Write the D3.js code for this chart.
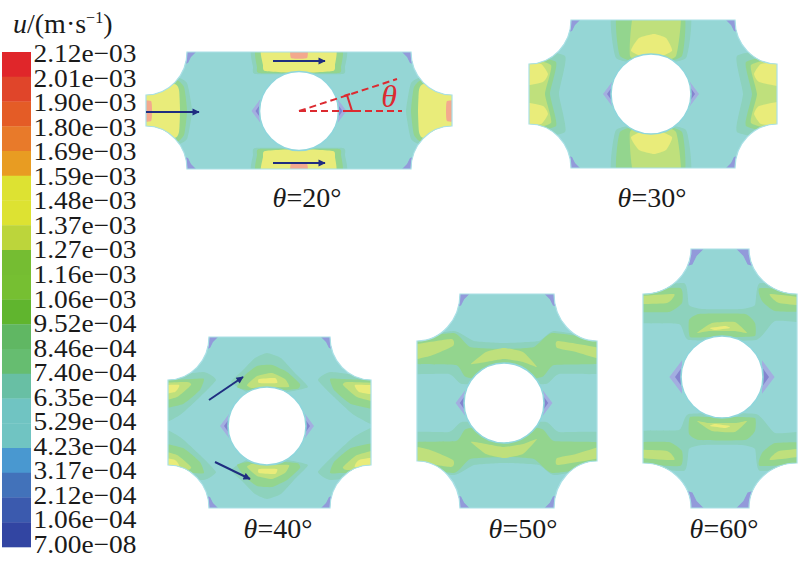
<!DOCTYPE html>
<html><head><meta charset="utf-8">
<script src="https://cdn.jsdelivr.net/npm/d3@7"></script>
<style>html,body{margin:0;padding:0;background:#fff}svg{display:block}text{font-family:"Liberation Serif",serif;fill:#1a1a1a}</style>
</head><body><svg id="c" width="800" height="563"></svg>
<script>
// ---- legend data
const legendLabels = ["2.12e−03","2.01e−03","1.90e−03","1.80e−03","1.69e−03","1.59e−03","1.48e−03","1.37e−03","1.27e−03","1.16e−03","1.06e−03","9.52e−04","8.46e−04","7.40e−04","6.35e−04","5.29e−04","4.23e−04","3.17e−04","2.12e−04","1.06e−04","7.00e−08"];
const legendColors = ["#e0262c","#e0442a","#e45c28","#e87a2a","#e89c24","#dde233","#dde233","#bcd53a","#74bd33","#76bf30","#60b52e","#60b764","#66bd70","#68bfa4","#6fc4c2","#6fc4c2","#4898d0","#4272ba","#3a5aae","#3245a2"];
const captions = ["20","30","40","50","60"];
// ---- contour outlines of the velocity field, in cell units from the hole centre
const OUT="#8dd2bd",GRN="#93d58e",LGT="#bfe07c",YEL="#e9ec7a",PNK="#f3a98e";
const band20 = [
 {f:OUT,my:1,p:[[-45,-66],[45,-66],[46,-44],[44,-37],[0,-37],[-44,-37],[-46,-44]]},
 {f:GRN,my:1,p:[[-41,-66],[41,-66],[42,-44],[40,-38],[0,-38],[-40,-38],[-42,-44]]},
 {f:YEL,my:1,p:[[-36,-66],[35,-66],[36,-46],[34,-40],[0,-38],[-34,-40],[-36,-46]]},
 {f:PNK,my:1,p:[[-8,-66],[8,-66],[8,-53],[-8,-53]]},
 {f:OUT,mx:1,p:[[-165,-22],[-125,-34],[-112,-28],[-107,0],[-112,28],[-125,34],[-165,22]]},
 {f:GRN,mx:1,p:[[-165,-22],[-125,-32],[-115,-24],[-112,0],[-115,24],[-125,32],[-165,22]]},
 {f:YEL,mx:1,p:[[-165,-19],[-125,-27],[-120,-21],[-119,0],[-120,21],[-125,27],[-165,19]]},
 {f:PNK,mx:1,p:[[-160,-10],[-148,-10],[-147,0],[-148,10],[-160,10]]}
];
const band30 = [
 {f:OUT,my:1,p:[[-38,-85],[38,-85],[35,-36],[0,-30],[-35,-36]]},
 {f:GRN,my:1,p:[[-33,-85],[32,-85],[31,-38],[0,-30],[-31,-38]]},
 {f:LGT,my:1,p:[[-16,-85],[29,-85],[25,-38],[0,-30],[-21,-38]]},
 {f:YEL,my:1,p:[[-20,-43],[-12,-56],[3,-60],[15,-56],[21,-43],[0,-34]]},
 {f:OUT,mx:1,p:[[-132,-42],[-86,-38],[-92,0],[-86,38],[-132,42]]},
 {f:GRN,mx:1,p:[[-132,-36],[-95,-32],[-101,0],[-95,32],[-132,36]]},
 {f:LGT,mx:1,p:[[-132,-34],[-100,-29],[-106,0],[-100,29],[-132,34]]},
 {f:YEL,mx:1,my:1,p:[[-132,-31],[-110,-30],[-103,-20],[-108,-12],[-132,-8]]}
];
const band40 = [
 {f:OUT,my:1,p:[[-36,-44],[-25,-55],[-12,-68],[0,-73],[14,-68],[27,-54],[41,-39],[20,-34],[0,-34],[-20,-34]]},
 {f:GRN,my:1,p:[[-30,-39],[-22,-51],[-10,-60],[5,-61],[20,-54],[33,-42],[30,-37],[0,-35],[-20,-36]]},
 {f:LGT,my:1,p:[[-20,-41],[-10,-50],[5,-53],[18,-47],[22,-39],[0,-39],[-15,-38]]},
 {f:YEL,my:1,p:[[-8,-47],[8,-48],[10,-43],[-8,-43]]},
 {f:OUT,mx:1,my:1,p:[[-112,-45],[-64,-54],[-51,-46],[-67,-29],[-87,-11],[-112,0]]},
 {f:GRN,mx:1,my:1,p:[[-112,-44],[-74,-47],[-63,-47],[-67,-36],[-84,-22],[-112,-17]]},
 {f:LGT,mx:1,my:1,p:[[-112,-42],[-80,-44],[-76,-41],[-90,-29],[-112,-24]]},
 {f:YEL,mx:1,my:1,p:[[-112,-40],[-88,-41],[-92,-34],[-112,-31]]}
];
const band50 = [
 {f:OUT,my:1,p:[[-100,-62],[-50,-72],[-30,-62],[0,-60],[35,-62],[50,-72],[100,-62],[100,-30],[55,-29],[42,-19],[0,-20],[-42,-19],[-55,-29],[-100,-30]]},
 {f:GRN,my:1,p:[[-100,-62],[-50,-70],[-34,-56],[0,-54],[30,-56],[48,-70],[100,-62],[100,-40],[50,-38],[38,-26],[0,-20],[-38,-26],[-48,-38],[-100,-40]]},
 {f:LGT,my:1,p:[[-33,-39],[-18,-51],[0,-55],[19,-51],[33,-36],[19,-41],[0,-44],[-18,-41]]},
 {f:LGT,my:1,p:[[-100,-56],[-53,-64],[-51,-57],[-74,-47],[-100,-42]]},
 {f:LGT,my:1,p:[[54,-62],[100,-54],[100,-43],[72,-51],[53,-55]]}
];
const band60 = [
 {f:OUT,my:1,p:[[-90,-86],[-38,-94],[-33,-72],[-20,-68],[20,-68],[33,-72],[38,-94],[90,-86],[90,-55],[53,-56],[34,-37],[-33,-37],[-43,-53],[-90,-55]]},
 {f:GRN,my:1,p:[[-33,-57],[-23,-63],[23,-63],[33,-54],[33,-41],[13,-40],[-13,-40],[-32,-40]]},
 {f:GRN,my:1,p:[[-90,-85],[-42,-89],[-40,-74],[-53,-65],[-90,-66]]},
 {f:GRN,my:1,p:[[38,-89],[90,-85],[90,-66],[53,-66],[40,-76]]},
 {f:LGT,my:1,p:[[-25,-44],[-10,-54],[13,-55],[25,-44],[13,-46],[-13,-46]]},
 {f:LGT,my:1,p:[[-90,-80],[-48,-83],[-55,-74],[-90,-73]]},
 {f:LGT,my:1,p:[[48,-83],[90,-78],[90,-71],[57,-74]]},
 {f:YEL,my:1,p:[[-12,-49],[3,-51],[8,-49],[-7,-47]]}
];
const holeSpot = [[0,-12],[9,0],[0,12]];
const holeCore = [[0,-7],[5,0],[0,7]];
const cornerSpot = [[-6,0],[9,0],[4,5],[1,11],[-6,13]];
const arrows20 = [[-153,1,-100,1],[-26,-50,26,-50],[-26,52,26,52]];
const arrows40 = [[-58,-26,-24,-49],[-52,36,-17,53]];
// ---- layout
const layout = [
 {x:[146,452],y:[52,169],c:[299,111],r:39.5,rx:41,ry:43,band:band20,arrows:arrows20,cap:[307,207],spot:1},
 {x:[529,777],y:[20,168],c:[651,94],r:40,rx:42,ry:44,band:band30,arrows:[],cap:[652,207],spot:1},
 {x:[168,371],y:[337,508],c:[267,426],r:39,rx:41,ry:43,band:band40,arrows:arrows40,cap:[278,538],spot:1},
 {x:[417,597],y:[294,508],c:[504,403],r:40,rx:43,ry:47,band:band50,arrows:[],cap:[523,538],spot:1.05},
 {x:[643,797],y:[249,508],c:[722,377],r:41,rx:48,ry:45,band:band60,arrows:[],cap:[724,538],spot:1.4}
];
const svg = d3.select("#c");
const defs = svg.append("defs");
defs.append("filter").attr("id","soft").append("feGaussianBlur").attr("stdDeviation",0.7);
const mk = defs.append("marker").attr("id","ah").attr("viewBox","0 0 10 10").attr("refX",9).attr("refY",5)
  .attr("markerWidth",4.2).attr("markerHeight",3.6).attr("orient","auto");
mk.append("path").attr("d","M0,0L10,5L0,10Z").attr("fill","#1f2d80");

// ---- legend
const barY = d3.scaleBand().domain(d3.range(legendColors.length)).range([52,547]);
svg.append("g").attr("filter","url(#soft)").selectAll("rect").data(legendColors).join("rect")
  .attr("x",2).attr("width",29).attr("y",(d,i)=>barY(i)).attr("height",barY.bandwidth()+0.3)
  .attr("fill",d=>d);
const labPos = d3.scalePoint().domain(d3.range(legendLabels.length)).range([62,553]);
svg.append("g").selectAll("text").data(legendLabels).join("text")
  .attr("x",33.5).attr("y",(d,i)=>labPos(i)).attr("font-size",26).attr("textLength",103).attr("lengthAdjust","spacingAndGlyphs").text(d=>d);
const t = svg.append("text").attr("x",13).attr("y",33).attr("font-size",28);
t.append("tspan").attr("font-style","italic").text("u");
t.append("tspan").text("/(m·s");
t.append("tspan").attr("font-size",16).attr("dy",-10).text("−1");
t.append("tspan").attr("dy",10).text(")");

// ---- panels
layout.forEach((L,k)=>{
  const xs = d3.scaleLinear().domain([L.x[0]-L.c[0],L.x[1]-L.c[0]]).range(L.x);
  const ys = d3.scaleLinear().domain([L.y[0]-L.c[1],L.y[1]-L.c[1]]).range(L.y);
  const [x0,x1]=L.x,[y0,y1]=L.y,{rx,ry}=L;
  const shape=`M${x0+rx},${y0}H${x1-rx}A${rx},${ry} 0 0 0 ${x1},${y0+ry}V${y1-ry}A${rx},${ry} 0 0 0 ${x1-rx},${y1}H${x0+rx}A${rx},${ry} 0 0 0 ${x0},${y1-ry}V${y0+ry}A${rx},${ry} 0 0 0 ${x0+rx},${y0}Z`;
  defs.append("clipPath").attr("id","cp"+k).append("path").attr("d",shape);
  const g = svg.append("g");
  const inner = g.append("g").attr("clip-path",`url(#cp${k})`);
  inner.append("rect").attr("x",x0).attr("y",y0).attr("width",x1-x0).attr("height",y1-y0).attr("fill","#95d6d5");
  const soft = inner.append("g").attr("filter","url(#soft)");
  const curve = d3.line().x(d=>xs(d[0])).y(d=>ys(d[1])).curve(d3.curveCardinalClosed.tension(0.55));
  L.band.forEach(b=>{
    const sx = b.mx?[1,-1]:[1], sy = b.my?[1,-1]:[1];
    sx.forEach(a=>sy.forEach(c=>{
      soft.append("path").attr("fill",b.f).attr("d",curve(b.p.map(q=>[q[0]*a,q[1]*c])));
    }));
  });
  const poly = d3.line().x(d=>xs(d[0])).y(d=>ys(d[1]));
  const hs = L.r-1;
  [1,-1].forEach(a=>{
    soft.append("path").attr("fill","#a3aee0").attr("d",poly(holeSpot.map(q=>[(hs+q[0]*L.spot)*a,q[1]*L.spot]))+"Z");
    soft.append("path").attr("fill","#8484cf").attr("d",poly(holeCore.map(q=>[(hs+q[0]*L.spot)*a,q[1]*L.spot]))+"Z");
  });
  [[1,1],[-1,1],[1,-1],[-1,-1]].forEach(([a,c])=>{
    const px = a>0? x0+rx : x1-rx, py = c>0? y0 : y1;
    soft.append("path").attr("fill","#929ada")
      .attr("d",d3.line().x(q=>px+q[0]*a*L.spot).y(q=>py+q[1]*c*L.spot)(cornerSpot)+"Z");
  });
  g.append("path").attr("d",shape).attr("fill","none").attr("stroke","#a9e0e6").attr("stroke-width",1.2);
  g.append("circle").attr("cx",xs(0)).attr("cy",ys(0)).attr("r",L.r).attr("fill","#fff").attr("stroke","#8fd6dc").attr("stroke-width",1.6);
  g.selectAll("line.a").data(L.arrows).join("line").attr("class","a")
    .attr("x1",d=>xs(d[0])).attr("y1",d=>ys(d[1])).attr("x2",d=>xs(d[2])).attr("y2",d=>ys(d[3]))
    .attr("stroke","#1f2d80").attr("stroke-width",2).attr("marker-end","url(#ah)");
  const cap = svg.append("text").attr("x",L.cap[0]).attr("y",L.cap[1]).attr("text-anchor","middle").attr("font-size",28);
  cap.append("tspan").attr("font-style","italic").text("θ");
  cap.append("tspan").text("="+captions[k]+"°");
});

// ---- angle annotation on first panel
const red="#dc2a30";
const ann = svg.append("g").attr("stroke",red).attr("fill","none").attr("stroke-width",2);
ann.append("line").attr("x1",299).attr("y1",111).attr("x2",402).attr("y2",111).attr("stroke-dasharray","7 4");
ann.append("line").attr("x1",299).attr("y1",111).attr("x2",397).attr("y2",79).attr("stroke-dasharray","7 4");
ann.append("line").attr("x1",347).attr("y1",95).attr("x2",352).attr("y2",111);
ann.append("line").attr("x1",344).attr("y1",96).attr("x2",350).attr("y2",94);
ann.append("line").attr("x1",349).attr("y1",111).attr("x2",355).attr("y2",111);
svg.append("text").attr("x",389).attr("y",107).attr("text-anchor","middle").attr("font-size",32).attr("font-style","italic").style("fill",red).text("θ");
</script></body></html>
